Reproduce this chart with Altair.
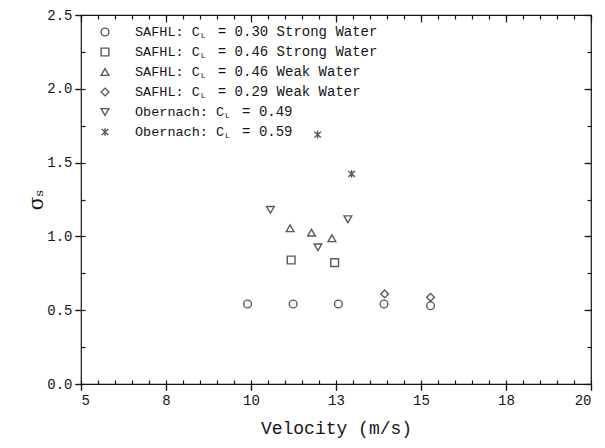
import altair as alt
import pandas as pd

# ---- data ----
series_names = ["s030_strong", "s046_strong", "s046_weak", "s029_weak", "ob049", "ob059"]
legend_labels = [
    "SAFHL: C_L = 0.30 Strong Water",
    "SAFHL: C_L = 0.46 Strong Water",
    "SAFHL: C_L = 0.46 Weak Water",
    "SAFHL: C_L = 0.29 Weak Water",
    "Obernach: C_L = 0.49",
    "Obernach: C_L = 0.59",
]
ASTER = "M0,-1L0,1M-0.85,-0.75L0.85,0.75M-0.85,0.75L0.85,-0.75"
shapes = ["circle", "square", "triangle-up", "diamond", "triangle-down", ASTER]

vel_030s = [9.90, 11.24, 12.57, 13.91, 15.28]
sig_030s = [0.542, 0.542, 0.542, 0.542, 0.53]
vel_046s = [11.18, 12.46]
sig_046s = [0.84, 0.822]
vel_046w = [11.15, 11.78, 12.38]
sig_046w = [1.055, 1.025, 0.987]
vel_029w = [13.93, 15.28]
sig_029w = [0.61, 0.587]
vel_ob049 = [10.57, 11.97, 12.85]
sig_ob049 = [1.18, 0.926, 1.116]
vel_ob059 = [11.96, 12.96]
sig_ob059 = [1.69, 1.423]

x_major = [5, 7.5, 10, 12.5, 15, 17.5, 20]
y_major = [0.0, 0.5, 1.0, 1.5, 2.0, 2.5]
x_minor = [5 + 0.5 * i for i in range(31)]
y_minor = [0.25 * i for i in range(11)]

all_vel = [vel_030s, vel_046s, vel_046w, vel_029w, vel_ob049, vel_ob059]
all_sig = [sig_030s, sig_046s, sig_046w, sig_029w, sig_ob049, sig_ob059]
rows = []
for name, xs, ys in zip(series_names, all_vel, all_sig):
    for v, s in zip(xs, ys):
        rows.append({"series": name, "v": v, "s": s})
df = pd.DataFrame(rows)

W, H = 510, 369
INK = "#151515"
MONO = "Liberation Mono"

xscale = alt.Scale(domain=[5, 20], nice=False, zero=False)
yscale = alt.Scale(domain=[0, 2.5], nice=False, zero=False)
shape_scale = alt.Scale(domain=series_names, range=shapes)

def tick_axis(orient, offset, values, size):
    return alt.Axis(orient=orient, offset=offset, values=values, ticks=True, tickSize=size,
                    tickColor=INK, tickWidth=1.2, labels=False, domain=False, title=None, grid=False)

def hidden(xaxis, yaxis):
    return alt.Chart(df).mark_point(opacity=0).encode(
        x=alt.X("v:Q", scale=xscale, axis=xaxis),
        y=alt.Y("s:Q", scale=yscale, axis=yaxis),
    )

points = alt.Chart(df).mark_point(filled=False, strokeWidth=1.4, color=INK, size=60).encode(
    x=alt.X("v:Q", scale=xscale,
            axis=alt.Axis(orient="bottom", values=x_major, labelExpr="round(datum.value)",
                          ticks=True, tickSize=6, tickColor=INK, tickWidth=1.2, domain=False,
                          title="Velocity (m/s)", labelPadding=3,
                          labelFontSize=14, titleFontSize=18, titlePadding=12,
                          titleFontWeight="normal", grid=False)),
    y=alt.Y("s:Q", scale=yscale,
            axis=alt.Axis(orient="left", values=y_major, format=".1f", ticks=True, tickSize=6,
                          tickColor=INK, tickWidth=1.2, domain=False,
                          title="σₛ", labelPadding=3, labelFontSize=14, titleFontSize=20,
                          titlePadding=0, titleFontWeight="normal", titleFont="DejaVu Serif",
                          grid=False)),
    shape=alt.Shape("series:N", scale=shape_scale, legend=None),
)

# bottom and left major ticks (outward)
major_out = hidden(tick_axis("bottom", 0, x_major, 6), tick_axis("left", 0, y_major, 6))
# top and right major ticks (inward)
major_in = hidden(tick_axis("bottom", -H, x_major, 7), tick_axis("left", -W, y_major, 7))
# bottom and left minor ticks (inward)
minor_bl = hidden(tick_axis("top", -H, x_minor, 4), tick_axis("right", -W, y_minor, 4))
# top and right minor ticks (inward)
minor_tr = hidden(tick_axis("bottom", -H, x_minor, 4), tick_axis("left", -W, y_minor, 4))

# custom legend (subscript L)
legend_layers = []
one = alt.Data(values=[{}])
CW = 8.1
for i, (lab, shp) in enumerate(zip(legend_labels, shapes)):
    yy = 17 + 20 * i
    pre, post = lab.split("_L")
    x_pre_end = 54 + len(pre) * CW
    legend_layers.append(
        alt.Chart(one).mark_point(shape=shp, filled=False, strokeWidth=1.4, color=INK, size=60)
        .encode(x=alt.value(24), y=alt.value(yy))
    )
    legend_layers.append(
        alt.Chart(one).mark_text(text=pre, align="left", baseline="middle",
                                 font=MONO, fontSize=13.5, color=INK)
        .encode(x=alt.value(54), y=alt.value(yy))
    )
    legend_layers.append(
        alt.Chart(one).mark_text(text="L", align="left", baseline="middle",
                                 font=MONO, fontSize=8, color=INK)
        .encode(x=alt.value(x_pre_end + 1), y=alt.value(yy + 4))
    )
    legend_layers.append(
        alt.Chart(one).mark_text(text=post.strip(), align="left", baseline="middle",
                                 font=MONO, fontSize=14, color=INK)
        .encode(x=alt.value(x_pre_end + 18), y=alt.value(yy))
    )

chart = alt.layer(points, major_out, major_in, minor_bl, minor_tr, *legend_layers).resolve_axis(
    x="independent", y="independent"
).properties(
    width=W, height=H,
    autosize=alt.AutoSizeParams(type="none"),
    padding={"left": 73, "top": 7, "right": 6, "bottom": 56},
).configure_view(
    stroke=INK, strokeWidth=1.2
).configure_axis(
    labelColor=INK, titleColor=INK, labelFont=MONO, titleFont=MONO
)

chart.save("out.html", embed_options={"renderer": "svg", "actions": False})
